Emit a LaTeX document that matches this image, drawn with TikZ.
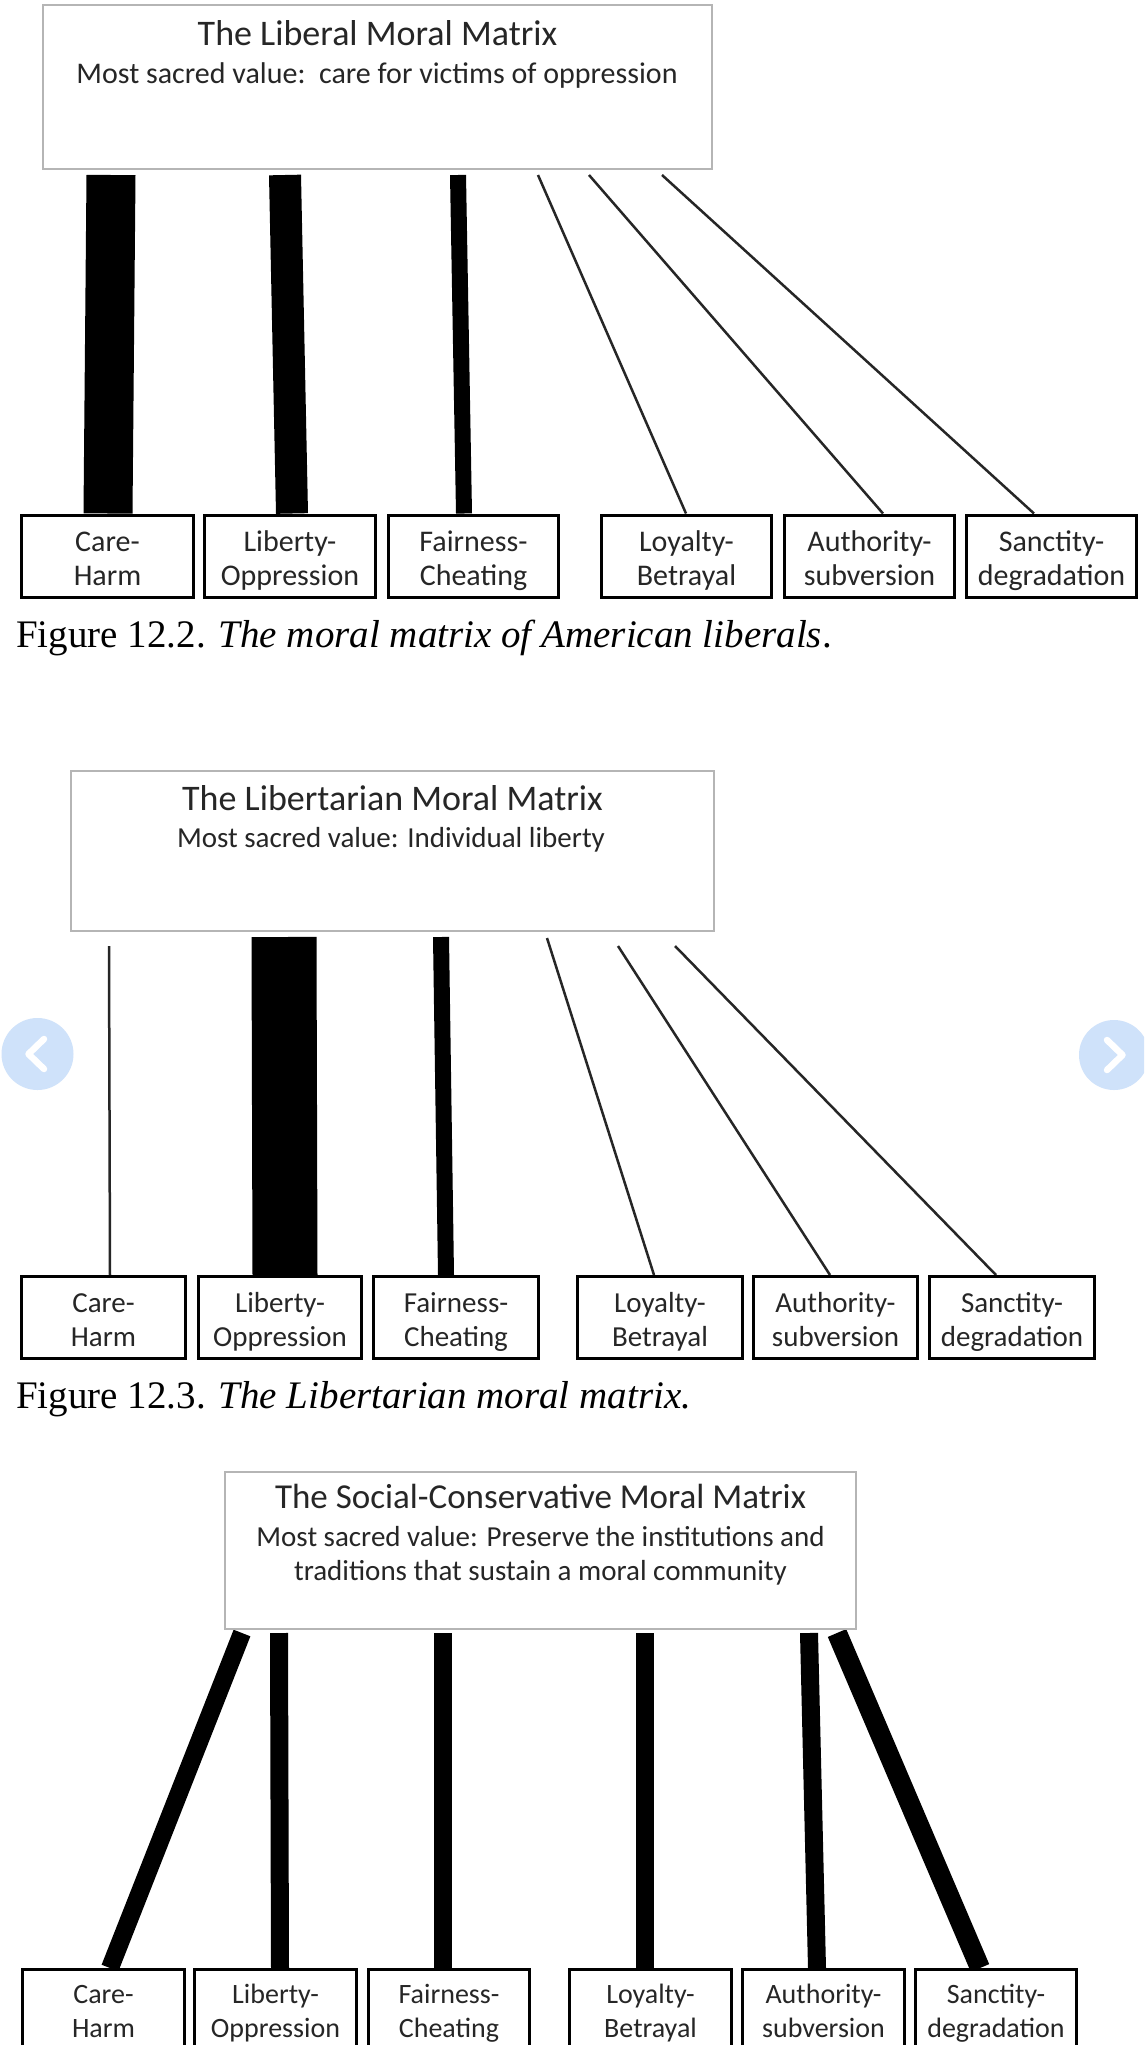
\documentclass[tikz,border=0pt]{standalone}
\usepackage{fontspec}
\setmainfont{Carlito}
\newfontfamily\capfont{Liberation Serif}
\usetikzlibrary{backgrounds}
\definecolor{navblue}{HTML}{CFE2FA}
\definecolor{topgray}{HTML}{B5B5B5}
\definecolor{txt}{HTML}{262626}
\begin{document}
\begin{tikzpicture}[x=1pt,y=-1pt,
  topbox/.style={draw=topgray,line width=2pt,fill=white,inner sep=0pt},
  lblbox/.style={draw=black,line width=3pt,fill=white,inner sep=0pt,align=center,text=txt,
    text height=64pt,text depth=6pt},
  fa/.style={font=\fontsize{30}{34}\selectfont},
  fb/.style={font=\fontsize{29}{33.6}\selectfont},
  fc/.style={font=\fontsize{28}{34}\selectfont},
  ttl/.style={anchor=base,text=txt,inner sep=0pt,font=\fontsize{36}{40}\selectfont},
  sub/.style={anchor=base,text=txt,inner sep=0pt,font=\fontsize{#1}{34}\selectfont},
  capt/.style={anchor=base west,inner sep=0pt,font=\capfont\fontsize{39}{44}\selectfont},
  thinln/.style={line width=2.5pt,draw=black!85},
  barln/.style={line width=#1,draw=black},
]
\useasboundingbox (0,0) rectangle (1144,2045);
\clip (0,0) rectangle (1144,2045);
\begin{pgfonlayer}{background}
\fill[white] (0,0) rectangle (1144,2045);
\end{pgfonlayer}

% ---------- Figure 12.2 ----------
\node[topbox,minimum width=669pt,minimum height=164pt] (L1) at (377.5,87) {};
\node[ttl] (L1t) at (377.5,45) {The Liberal Moral Matrix};
\node[sub=30] (L1s) at (377,83) {Most sacred value:\ \ care for victims of oppression};

\node[lblbox,fa,minimum width=172pt,minimum height=82.5pt] (a1) at (107.5,556.25) {Care-\\Harm};
\node[lblbox,fa,minimum width=171pt,minimum height=82.5pt] (a2) at (290,556.25) {Liberty-\\Oppression};
\node[lblbox,fa,minimum width=170pt,minimum height=82.5pt] (a3) at (473.5,556.25) {Fairness-\\Cheating};
\node[lblbox,fa,minimum width=170pt,minimum height=82.5pt] (a4) at (686.5,556.25) {Loyalty-\\Betrayal};
\node[lblbox,fa,minimum width=170pt,minimum height=82.5pt] (a5) at (869.5,556.25) {Authority-\\subversion};
\node[lblbox,fa,minimum width=170pt,minimum height=82.5pt] (a6) at (1051.5,556.25) {Sanctity-\\degradation};

\begin{pgfonlayer}{background}
\draw[barln=49pt] ([xshift=69pt,yshift=-5pt]L1.south west) -- ([xshift=0.5pt]a1.north);
\draw[barln=32pt] ([xshift=243pt,yshift=-5pt]L1.south west) -- ([xshift=2pt]a2.north);
\draw[barln=16pt] ([xshift=416pt,yshift=-5pt]L1.south west) -- ([xshift=-9.5pt]a3.north);
\draw[thinln] ([xshift=496pt,yshift=-5pt]L1.south west) -- ([xshift=-0.5pt]a4.north);
\draw[thinln] ([xshift=547pt,yshift=-5pt]L1.south west) -- ([xshift=13.5pt]a5.north);
\draw[thinln] ([xshift=620pt,yshift=-5pt]L1.south west) -- ([xshift=-17.5pt]a6.north);
\end{pgfonlayer}

\node[capt] (c1) at (16,647) {Figure 12.2. \textit{The moral matrix of American liberals}.};

% ---------- Figure 12.3 ----------
\node[topbox,minimum width=643pt,minimum height=160pt] (L2) at (392.5,851) {};
\node[ttl] (L2t) at (392.5,810) {The Libertarian Moral Matrix};
\node[sub=29] (L2s) at (391,847) {Most sacred value: Individual liberty};

\node[lblbox,fb,minimum width=164pt,minimum height=82pt] (b1) at (103.5,1317.5) {Care-\\Harm};
\node[lblbox,fb,minimum width=163pt,minimum height=82pt] (b2) at (280,1317.5) {Liberty-\\Oppression};
\node[lblbox,fb,minimum width=165pt,minimum height=82pt] (b3) at (456,1317.5) {Fairness-\\Cheating};
\node[lblbox,fb,minimum width=165pt,minimum height=82pt] (b4) at (660,1317.5) {Loyalty-\\Betrayal};
\node[lblbox,fb,minimum width=164pt,minimum height=82pt] (b5) at (835.5,1317.5) {Authority-\\subversion};
\node[lblbox,fb,minimum width=165pt,minimum height=82pt] (b6) at (1012,1317.5) {Sanctity-\\degradation};

\begin{pgfonlayer}{background}
\draw[thinln] ([xshift=39pt,yshift=-14pt]L2.south west) -- ([xshift=6.5pt]b1.north);
\draw[barln=65pt] ([xshift=214pt,yshift=-5pt]L2.south west) -- ([xshift=5pt]b2.north);
\draw[barln=16pt] ([xshift=371pt,yshift=-5pt]L2.south west) -- ([xshift=-10pt]b3.north);
\draw[thinln] ([xshift=477pt,yshift=-6pt]L2.south west) -- ([xshift=-6pt]b4.north);
\draw[thinln] ([xshift=548pt,yshift=-14pt]L2.south west) -- ([xshift=-5.5pt]b5.north);
\draw[thinln] ([xshift=605pt,yshift=-14pt]L2.south west) -- ([xshift=-16pt]b6.north);
\end{pgfonlayer}

\node[capt] (c2) at (16,1408) {Figure 12.3. \textit{The Libertarian moral matrix.}};

% carousel buttons
\fill[navblue] (37.5,1054) circle[radius=36];
\draw[white,line width=6.5pt,line cap=round,line join=round] (44,1039) -- (28.5,1054) -- (44,1069);
\fill[navblue] (1114,1055) circle[radius=35];
\draw[white,line width=6.5pt,line cap=round,line join=round] (1107,1040) -- (1122.5,1055) -- (1107,1070);

% ---------- Social-conservative ----------
\node[topbox,minimum width=631pt,minimum height=157pt] (L3) at (540.5,1550.5) {};
\node[ttl,font=\fontsize{35}{40}\selectfont] (L3t) at (540.5,1508) {The Social-Conservative Moral Matrix};
\node[sub=29] (L3s) at (540.5,1546) {Most sacred value: Preserve the institutions and};
\node[sub=29] (L3u) at (540.5,1580) {traditions that sustain a moral community};

\node[lblbox,fc,minimum width=162pt,minimum height=77pt] (s1) at (103.5,2008) {Care-\\Harm};
\node[lblbox,fc,minimum width=162pt,minimum height=77pt] (s2) at (275.5,2008) {Liberty-\\Oppression};
\node[lblbox,fc,minimum width=161pt,minimum height=77pt] (s3) at (449,2008) {Fairness-\\Cheating};
\node[lblbox,fc,minimum width=162pt,minimum height=77pt] (s4) at (650.5,2008) {Loyalty-\\Betrayal};
\node[lblbox,fc,minimum width=162pt,minimum height=77pt] (s5) at (823.5,2008) {Authority-\\subversion};
\node[lblbox,fc,minimum width=161pt,minimum height=77pt] (s6) at (996,2008) {Sanctity-\\degradation};

\begin{pgfonlayer}{background}
\draw[barln=18pt] ([xshift=18pt,yshift=-3pt]L3.south west) -- ([xshift=6.5pt]s1.north);
\draw[barln=18pt] ([xshift=55pt,yshift=-3pt]L3.south west) -- ([xshift=4.5pt]s2.north);
\draw[barln=18pt] ([xshift=219pt,yshift=-3pt]L3.south west) -- ([xshift=-6pt]s3.north);
\draw[barln=18pt] ([xshift=421pt,yshift=-3pt]L3.south west) -- ([xshift=-5.5pt]s4.north);
\draw[barln=18pt] ([xshift=585pt,yshift=-3pt]L3.south west) -- ([xshift=-6.5pt]s5.north);
\draw[barln=20pt] ([xshift=613pt,yshift=-3pt]L3.south west) -- ([xshift=-16pt]s6.north);
\end{pgfonlayer}
\end{tikzpicture}
\end{document}
